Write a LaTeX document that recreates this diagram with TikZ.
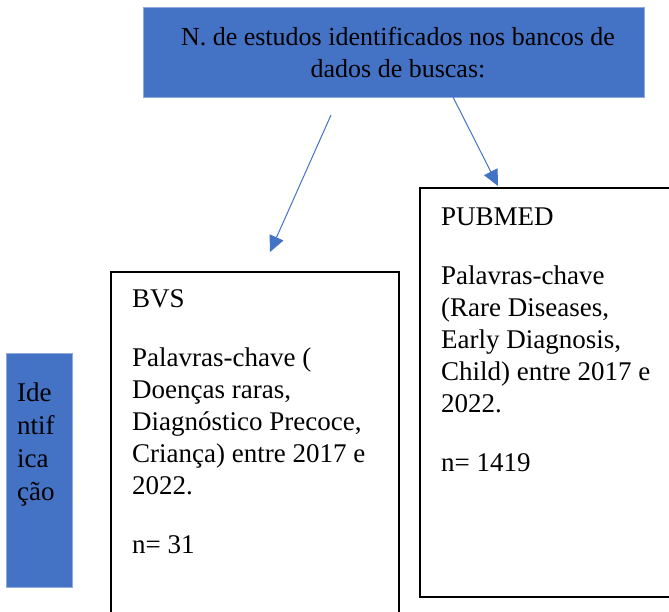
\documentclass[tikz,border=0pt]{standalone}
\usepackage{fontspec}
\setmainfont{Liberation Serif}
\usetikzlibrary{arrows.meta}
\definecolor{officeblue}{HTML}{4472C4}
\begin{document}
\begin{tikzpicture}[x=1pt,y=-1pt,
  bluebox/.style={fill=officeblue, draw=officeblue!60!white, line width=0.6pt, inner sep=0pt, anchor=north west},
  framebox/.style={draw=black, line width=1.5pt, inner sep=0pt, anchor=north west},
  txt/.style={font=\fontsize{27}{32}\selectfont, inner sep=0pt, align=left, anchor=north west, text=black},
  link/.style={draw=officeblue, line width=1pt, -{Triangle[length=16pt,width=15pt]}}
]
\useasboundingbox (0,0) rectangle (669,611);
\clip (0,0) rectangle (669,611);
% boxes
\node[bluebox, minimum width=501pt, minimum height=90pt] (top) at (143,7) {};
\node[bluebox, minimum width=66pt, minimum height=234pt] (ident) at (6,353) {};
\node[framebox, minimum width=288pt, minimum height=360pt] (bvs) at (110,271) {};
\node[framebox, minimum width=270pt, minimum height=409pt] (pubmed) at (419,187) {};
% texts
\node[txt, font=\fontsize{26}{32}\selectfont, align=center, anchor=north] (toptext) at (398,23)
  {\strut N. de estudos identificados nos bancos de\\ dados de buscas:};
\node[txt, font=\fontsize{27}{33}\selectfont] (identtext) at (17,378.6)
  {\strut Ide\\ ntif\\ ica\\ ção};
\node[txt] (bvstext) at (132,284.6)
  {\strut BVS\\[27pt] Palavras-chave (\\ Doenças raras,\\ Diagnóstico Precoce,\\ Criança) entre 2017 e\\ 2022.\\[27pt] n= 31};
\node[txt] (pubmedtext) at (441,202.6)
  {\strut PUBMED\\[27pt] Palavras-chave\\ (Rare Diseases,\\ Early Diagnosis,\\ Child) entre 2017 e\\ 2022.\\[27pt] n= 1419};
% connectors
\coordinate (a1s) at (331,115);
\coordinate (a1e) at (270,252);
\coordinate (a2s) at (453,97);
\coordinate (a2e) at (498,186);
\draw[link] (a1s) -- (a1e);
\draw[link] (a2s) -- (a2e);
\end{tikzpicture}
\end{document}
